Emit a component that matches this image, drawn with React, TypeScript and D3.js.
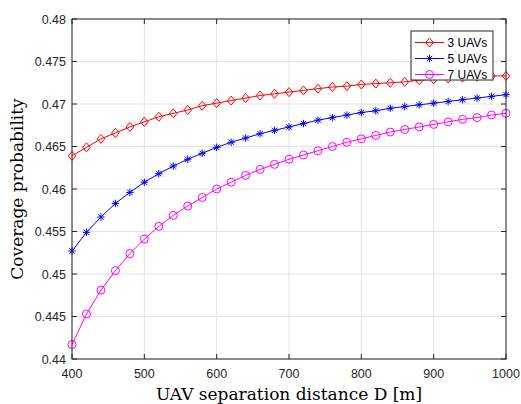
import React from "react";
import * as d3 from "d3";

const distances = [400, 420, 440, 460, 480, 500, 520, 540, 560, 580, 600, 620, 640, 660, 680, 700, 720, 740, 760, 780, 800, 820, 840, 860, 880, 900, 920, 940, 960, 980, 1000];

const uav3 = [0.4639, 0.4649, 0.4659, 0.4666, 0.4673, 0.4679, 0.4685, 0.4689, 0.4693, 0.4698, 0.4701, 0.4704, 0.4707, 0.4710, 0.4712, 0.4714, 0.4716, 0.4718, 0.4720, 0.4721, 0.4723, 0.4724, 0.4725, 0.4726, 0.4728, 0.4729, 0.4730, 0.4731, 0.4732, 0.4733, 0.4733];

const uav5 = [0.4527, 0.4549, 0.4567, 0.4583, 0.4596, 0.4608, 0.4618, 0.4627, 0.4635, 0.4642, 0.4649, 0.4655, 0.4660, 0.4665, 0.4669, 0.4673, 0.4677, 0.4681, 0.4684, 0.4687, 0.4690, 0.4692, 0.4695, 0.4697, 0.4699, 0.4701, 0.4703, 0.4705, 0.4707, 0.4709, 0.4711];

const uav7 = [0.4417, 0.4453, 0.4481, 0.4504, 0.4524, 0.4541, 0.4556, 0.4569, 0.4580, 0.4590, 0.4600, 0.4608, 0.4616, 0.4623, 0.4629, 0.4635, 0.4640, 0.4645, 0.4650, 0.4655, 0.4659, 0.4663, 0.4667, 0.4670, 0.4673, 0.4676, 0.4679, 0.4682, 0.4684, 0.4687, 0.4689];

const xTicks = [400, 500, 600, 700, 800, 900, 1000];
const yTicks = [0.44, 0.445, 0.45, 0.455, 0.46, 0.465, 0.47, 0.475, 0.48];
const yTickLabels = ["0.44", "0.445", "0.45", "0.455", "0.46", "0.465", "0.47", "0.475", "0.48"];

const seriesNames = ["3 UAVs", "5 UAVs", "7 UAVs"];
const seriesColors = ["#ff0000", "#0000ff", "#ff00ff"];
const seriesMarkers = ["diamond", "star", "circle"];

const W = 521;
const H = 404;
const left = 72;
const right = 506;
const top = 19;
const bottom = 359;

function Marker({ type, x, y, color }: { type: string; x: number; y: number; color: string }) {
  if (type === "diamond") {
    const r = 4.5;
    return (
      <path
        d={`M${x},${y - r}L${x + r * 0.85},${y}L${x},${y + r}L${x - r * 0.85},${y}Z`}
        fill="none"
        stroke={color}
        strokeWidth={1}
      />
    );
  }
  if (type === "circle") {
    return <circle cx={x} cy={y} r={4} fill="none" stroke={color} strokeWidth={1} />;
  }
  const r = 3.7;
  const d = r * 0.72;
  return (
    <path
      d={`M${x - r},${y}H${x + r}M${x},${y - r}V${y + r}M${x - d},${y - d}L${x + d},${y + d}M${x - d},${y + d}L${x + d},${y - d}`}
      fill="none"
      stroke={color}
      strokeWidth={1}
    />
  );
}

export default function App() {
  const x = d3.scaleLinear().domain([400, 1000]).range([left, right]);
  const y = d3.scaleLinear().domain([0.44, 0.48]).range([bottom, top]);
  const allSeries = [uav3, uav5, uav7];
  const line = d3
    .line<number>()
    .x((_, i) => x(distances[i]))
    .y((v) => y(v));

  const axisColor = "#262626";
  const tickFont = "'Liberation Sans', Arial, sans-serif";
  const serif = "'DejaVu Serif', serif";

  const legX = 411;
  const legY = 31;
  const legW = 82;
  const legH = 49;
  const rowYs = [42.5, 58.5, 74.5];

  return (
    <svg
      width={W}
      height={H}
      viewBox={`0 0 ${W} ${H}`}
      style={{ position: "absolute", left: 0, top: 0, background: "#fff" }}
    >
      <rect x={0} y={0} width={W} height={H} fill="#fff" />
      {/* grid */}
      <g stroke="#e3e3e3" strokeWidth={1}>
        {xTicks.map((t) => (
          <line key={"gx" + t} x1={x(t)} x2={x(t)} y1={top} y2={bottom} />
        ))}
        {yTicks.map((t) => (
          <line key={"gy" + t} x1={left} x2={right} y1={y(t)} y2={y(t)} />
        ))}
      </g>
      {/* series */}
      {allSeries.map((s, si) => (
        <g key={"s" + si}>
          <path d={line(s) || ""} fill="none" stroke={seriesColors[si]} strokeWidth={1} />
          {s.map((v, i) => (
            <Marker key={i} type={seriesMarkers[si]} x={x(distances[i])} y={y(v)} color={seriesColors[si]} />
          ))}
        </g>
      ))}
      {/* axes box */}
      <rect x={left} y={top} width={right - left} height={bottom - top} fill="none" stroke={axisColor} strokeWidth={1} />
      {/* ticks */}
      <g stroke={axisColor} strokeWidth={1}>
        {xTicks.map((t) => (
          <g key={"tx" + t}>
            <line x1={x(t)} x2={x(t)} y1={bottom} y2={bottom - 5} />
            <line x1={x(t)} x2={x(t)} y1={top} y2={top + 5} />
          </g>
        ))}
        {yTicks.map((t) => (
          <g key={"ty" + t}>
            <line x1={left} x2={left + 5} y1={y(t)} y2={y(t)} />
            <line x1={right} x2={right - 5} y1={y(t)} y2={y(t)} />
          </g>
        ))}
      </g>
      {/* tick labels */}
      <g fill={axisColor} fontFamily={tickFont} fontSize={12.5}>
        {xTicks.map((t) => (
          <text key={"lx" + t} x={x(t)} y={378} textAnchor="middle">
            {String(t)}
          </text>
        ))}
        {yTicks.map((t, i) => (
          <text key={"ly" + t} x={left - 6} y={y(t) + 4.5} textAnchor="end">
            {yTickLabels[i]}
          </text>
        ))}
      </g>
      {/* axis labels */}
      <text x={(left + right) / 2} y={400} textAnchor="middle" fontFamily={serif} fontSize={17} fill="#000">
        UAV separation distance D [m]
      </text>
      <text
        transform={`translate(23,${(top + bottom) / 2}) rotate(-90)`}
        textAnchor="middle"
        fontFamily={serif}
        fontSize={17}
        fill="#000"
      >
        Coverage probability
      </text>
      {/* legend */}
      <rect x={legX} y={legY} width={legW} height={legH} fill="#fff" stroke={axisColor} strokeWidth={1} />
      {seriesNames.map((n, i) => (
        <g key={"leg" + i}>
          <line x1={415} x2={444} y1={rowYs[i]} y2={rowYs[i]} stroke={seriesColors[i]} strokeWidth={1} />
          <Marker type={seriesMarkers[i]} x={429.5} y={rowYs[i]} color={seriesColors[i]} />
          <text x={447.5} y={rowYs[i] + 4.3} fontFamily={tickFont} fontSize={12} fill="#000">
            {n}
          </text>
        </g>
      ))}
    </svg>
  );
}
